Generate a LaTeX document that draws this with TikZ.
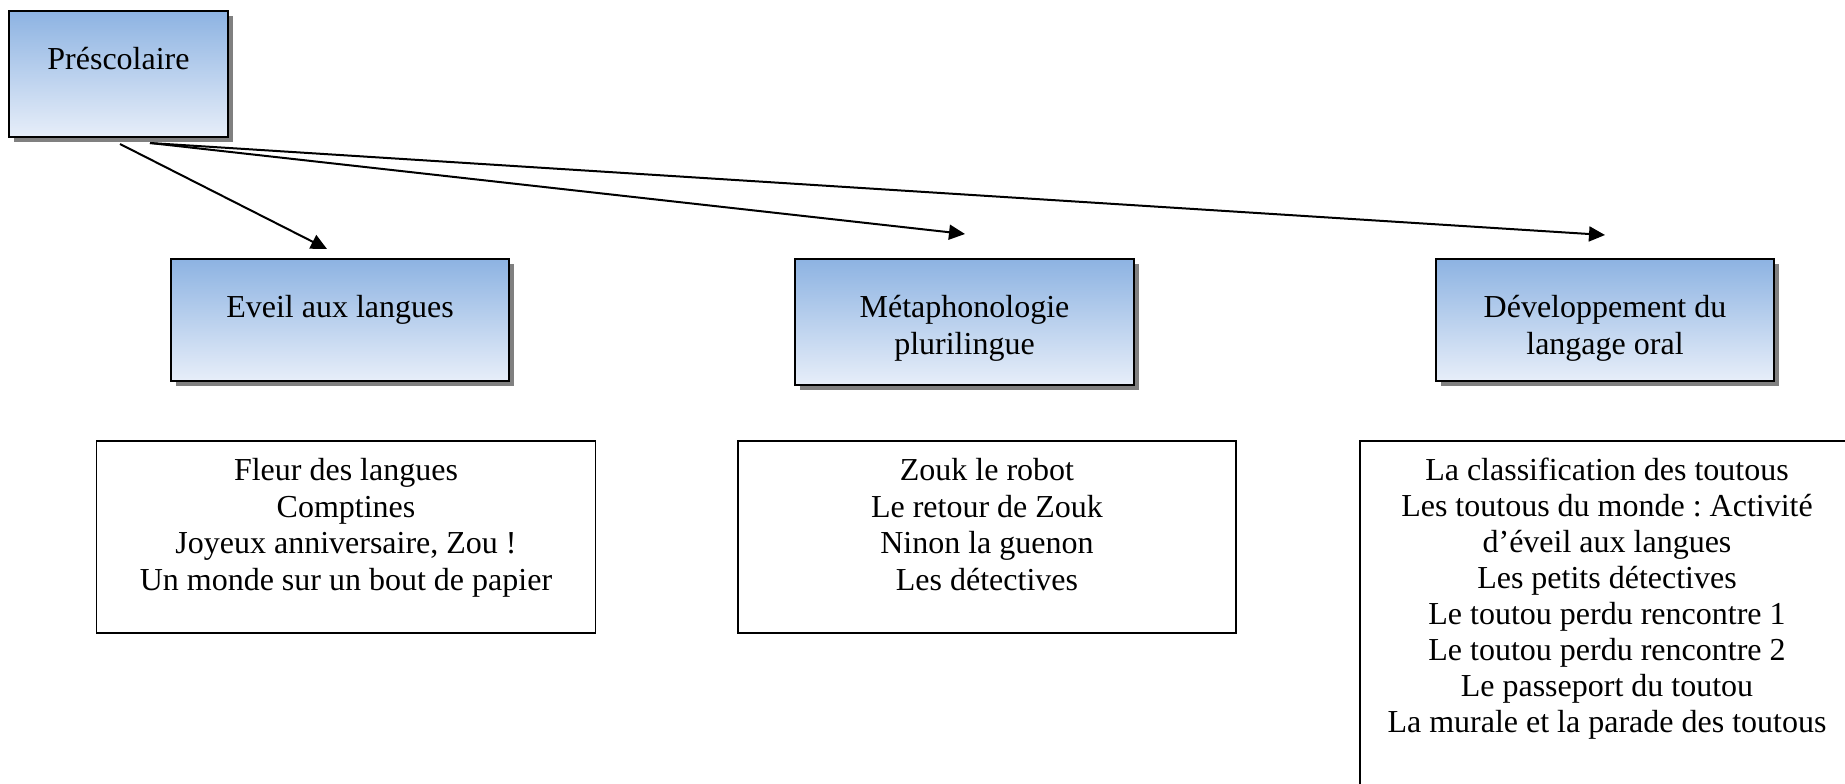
\documentclass[tikz,border=0pt]{standalone}
\usepackage{fontspec}
\setmainfont{Liberation Serif}
\usetikzlibrary{arrows.meta,shadows,calc}
\definecolor{bluetop}{HTML}{8DB3E2}
\definecolor{bluebot}{HTML}{E7EEF9}
\definecolor{shadowgray}{HTML}{808080}
\frenchspacing
\begin{document}
\begin{tikzpicture}[x=1pt,y=-1pt,
  bluebox/.style={draw=black,line width=2pt,inner sep=0pt,
    top color=bluetop,bottom color=bluebot,
    drop shadow={shadow xshift=5pt,shadow yshift=-5pt,fill=shadowgray,opacity=1}},
  listbox/.style={draw=black,line width=1.7pt,inner sep=0pt,fill=white},
  txt/.style={inner sep=0pt,align=center,anchor=north,
    font=\fontsize{32}{36.6}\selectfont},
  arr/.style={line width=2pt,-{Triangle[length=16pt,width=15pt]}}]
\useasboundingbox (0,0) rectangle (1845,784);
\clip (0,0) rectangle (1845,784);
\fill[white] (0,0) rectangle (1845,784);

% top node
\node[bluebox,minimum width=219pt,minimum height=126pt] (pre) at (118.5,74) {};
\node[txt] (pretxt) at (118.5,47) {Préscolaire};

% second level
\node[bluebox,minimum width=338pt,minimum height=122pt] (eveil) at (340,320) {};
\node[txt] (eveiltxt) at (340,295) {Eveil aux langues};
\node[bluebox,minimum width=339pt,minimum height=126pt] (meta) at (964.5,322) {};
\node[txt] (metatxt) at (964.5,295) {Métaphonologie\\plurilingue};
\node[bluebox,minimum width=338pt,minimum height=122pt] (dev) at (1605,320) {};
\node[txt] (devtxt) at (1605,295) {Développement du\\langage oral};

% lists
\node[listbox,minimum width=499pt,minimum height=192pt] (l1) at (346,537) {};
\node[txt] (l1txt) at (346,458) {Fleur des langues\\Comptines\\Joyeux anniversaire, Zou !\\Un monde sur un bout de papier};
\node[listbox,minimum width=498pt,minimum height=192pt] (l2) at (987,537) {};
\node[txt] (l2txt) at (987,458) {Zouk le robot\\Le retour de Zouk\\Ninon la guenon\\Les détectives};
\node[listbox,minimum width=496pt,minimum height=370pt] (l3) at (1608,626) {};
\node[txt,font=\fontsize{32}{35.9}\selectfont] (l3txt) at (1607,458) {La classification des toutous\\Les toutous du monde : Activité\\d’éveil aux langues\\Les petits détectives\\Le toutou perdu rencontre 1\\Le toutou perdu rencontre 2\\Le passeport du toutou\\La murale et la parade des toutous};

% arrows
\coordinate (s1) at ($(pre.south)+(1.5,6)$);
\coordinate (s2) at ($(pre.south)+(31.5,5)$);
\coordinate (t1) at ($(eveil.north)+(-13,-9)$);
\coordinate (t2) at ($(meta.north)+(0.5,-24)$);
\coordinate (t3) at ($(dev.north)+(0,-23)$);
\draw[arr] (s1) -- (t1);
\draw[arr] (s2) -- (t2);
\draw[arr] (s2) -- (t3);
\end{tikzpicture}
\end{document}
